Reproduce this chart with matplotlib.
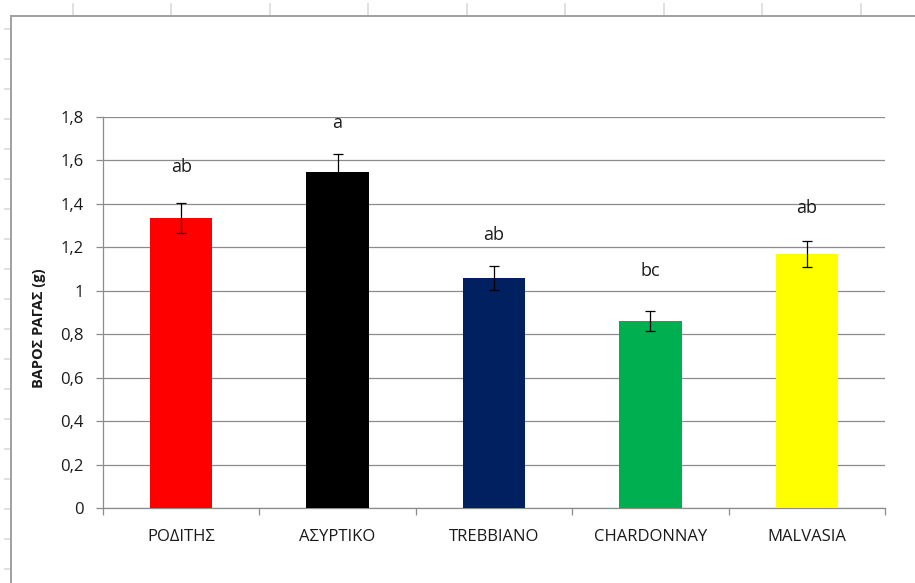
import matplotlib.pyplot as plt
from matplotlib.lines import Line2D

plt.rcParams['font.family'] = ['Open Sans', 'DejaVu Sans']

# grape varieties and mean berry weight (g) with error
varieties = ['ΡΟΔΙΤΗΣ', 'ΑΣΥΡΤΙΚΟ', 'TREBBIANO', 'CHARDONNAY', 'MALVASIA']
berry_weight = [1.335, 1.548, 1.058, 0.860, 1.168]
berry_err = [0.067, 0.080, 0.055, 0.045, 0.060]
letters = ['ab', 'a', 'ab', 'bc', 'ab']

bar_colors = ['#FF0000', '#000000', '#002060', '#00B050', '#FFFF00']
letter_offsets = [36, 31, 31, 40, 33]  # px above the error cap

W, H = 915, 583
fig = plt.figure(figsize=(W / 100, H / 100), dpi=100)
fig.patch.set_facecolor('white')


def px(x, y):
    # pixel (from top-left) -> figure fraction
    return x / W, 1 - y / H


# sheet grid around the chart object
for k in range(9):
    x = 72.7 + 98.5 * k
    (x0, y0), (x1, y1) = px(x, 4), px(x, 15.7)
    fig.add_artist(Line2D([x0, x1], [y0, y1], color='#dadada', lw=1.2))
for k in range(19):
    y = 29 + 30 * k
    (x0, y0), (x1, y1) = px(5, y), px(11, y)
    fig.add_artist(Line2D([x0, x1], [y0, y1], color='#dadada', lw=1.2))

# chart area border (runs off the right and bottom edges)
(xa, ya), (xb, yb) = px(11, 583), px(11, 15.7)
fig.add_artist(Line2D([xa, xb], [ya, yb], color='#a0a0a0', lw=1.4))
(xa, ya), (xb, yb) = px(11, 15.7), px(915, 15.7)
fig.add_artist(Line2D([xa, xb], [ya, yb], color='#a0a0a0', lw=1.4))

ax = fig.add_axes([103 / W, 1 - 508 / H, (885 - 103) / W, (508 - 117) / H])

pos = list(range(len(varieties)))
ax.bar(pos, berry_weight, width=0.40, color=bar_colors, zorder=3)
ax.errorbar(pos, berry_weight, yerr=berry_err, fmt='none', ecolor='black',
            elinewidth=0.9, capsize=3.3, capthick=0.9, zorder=4)

for i, (m, e, t) in enumerate(zip(berry_weight, berry_err, letters)):
    ax.annotate(t, (i, m + e), xytext=(0, letter_offsets[i] * 0.72),
                textcoords='offset points', ha='center', va='center',
                fontsize=13, color='#1a1a1a')

ax.set_xlim(-0.5, len(varieties) - 0.5)
ax.set_ylim(0, 1.8)
yt = [0, 0.2, 0.4, 0.6, 0.8, 1, 1.2, 1.4, 1.6, 1.8]
ax.set_yticks(yt)
ax.set_yticklabels([('%g' % v).replace('.', ',') for v in yt])
ax.yaxis.grid(True, color='#8c8c8c', lw=0.9, zorder=0)

ax.set_xticks(pos)
ax.set_xticklabels(varieties)
ax.set_xticks([p - 0.5 for p in pos] + [len(pos) - 0.5], minor=True)
ax.tick_params(axis='x', which='major', length=0, pad=15, labelsize=12,
               labelcolor='#1a1a1a')
ax.tick_params(axis='x', which='minor', length=5, width=0.9, color='#8c8c8c',
               direction='out')
ax.tick_params(axis='y', length=5, width=0.9, color='#8c8c8c', pad=9,
               labelsize=12, labelcolor='#1a1a1a')

for s in ['top', 'right']:
    ax.spines[s].set_visible(False)
for s in ['left', 'bottom']:
    ax.spines[s].set_color('#8c8c8c')
    ax.spines[s].set_linewidth(0.9)

ax.set_ylabel('ΒΑΡΟΣ ΡΑΓΑΣ (g)', fontsize=10.5, fontweight='bold',
              color='#1a1a1a')
ax.yaxis.set_label_coords(-0.073, 0.46)

fig.savefig('out.png', dpi=100)
